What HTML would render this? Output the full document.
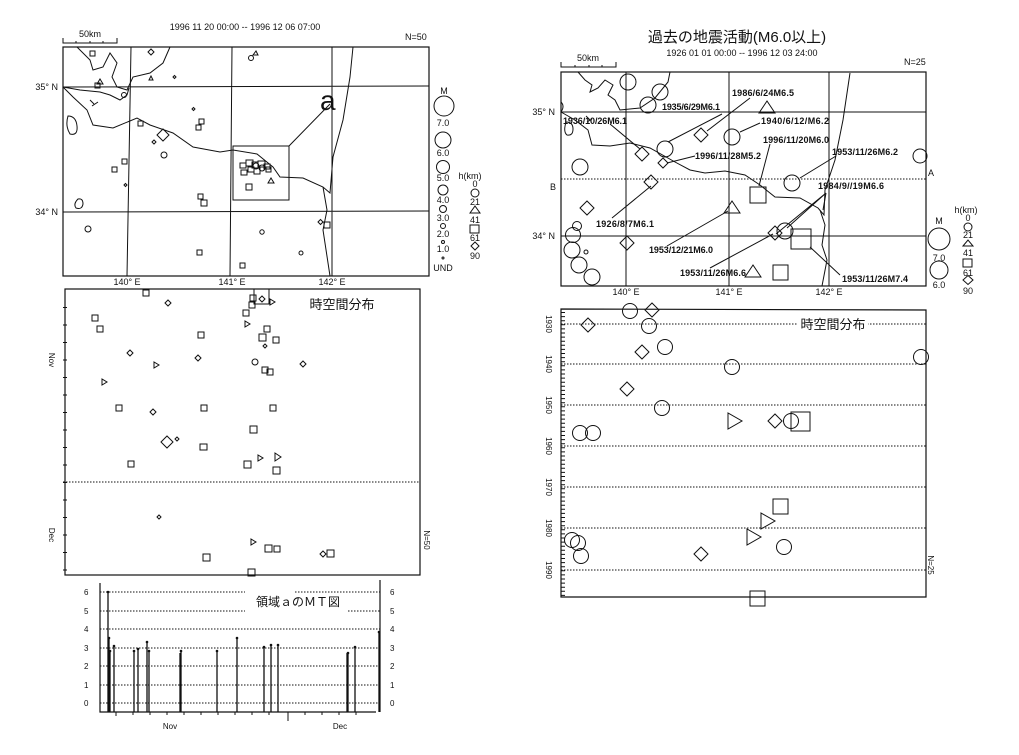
<!DOCTYPE html>
<html><head><meta charset="utf-8"><style>
html,body{margin:0;padding:0;background:#fff;}
svg{display:block;}
text{font-family:"Liberation Sans","Noto Sans CJK JP",sans-serif;fill:#111;}
.s{fill:none;stroke:#111;stroke-width:1;}
.t{stroke:#111;stroke-width:1.2;fill:none;}
.d{stroke:#111;stroke-width:1;stroke-dasharray:1.5 1.5;fill:none;}
.lb{font-size:9px;font-weight:bold;}
</style></head><body>
<svg width="1019" height="755" viewBox="0 0 1019 755" xmlns="http://www.w3.org/2000/svg">
<rect width="1019" height="755" fill="#fff"/>

<!-- ===== LEFT MAP ===== -->
<text x="245" y="30" font-size="9" text-anchor="middle">1996 11 20 00:00 -- 1996 12 06 07:00</text>
<text x="405" y="40" font-size="9">N=50</text>
<path class="s" d="M63 38 V43 H117 V38 M76 43v-2 M90 43v-2 M103 43v-2"/>
<text x="90" y="37" font-size="9" text-anchor="middle">50km</text>
<rect x="63" y="47" width="366" height="229" class="t"/>
<path class="s" d="M131 47 L127 276 M232 47 L230 276 M332 47 L332 276 M63 87 L429 86 M63 212 L429 211"/>
<text x="58" y="90" font-size="9" text-anchor="end">35° N</text>
<text x="58" y="215" font-size="9" text-anchor="end">34° N</text>
<text x="127" y="285" font-size="9" text-anchor="middle">140° E</text>
<text x="232" y="285" font-size="9" text-anchor="middle">141° E</text>
<text x="332" y="285" font-size="9" text-anchor="middle">142° E</text>
<path class="s" d="M63 87 L73 97 L87 110 L93 125 L113 128 L137 118 L150 125 L173 133 L193 147 L220 152 L233 150 L257 154 L273 167 L280 177 L303 178 L323 187 L330 193 L333 157 L343 120 L350 77 L353 47"/>
<path class="s" d="M323 187 L327 210 L323 230 L330 276"/>
<path class="s" d="M77 47 L90 60 L93 70 L103 67 L110 53 L117 63 L112 77 L117 87 L127 90 L133 77 L150 73 L163 63 L170 47"/>
<path class="s" d="M63 87 L80 90 L100 92 L110 95 L120 100 L127 95 L129 88"/>
<path class="s" d="M90 100 l4 4 M92 106 l6 -4"/>
<path class="s" d="M68 116 q-3 10 2 18 q8 2 7 -8 q-1 -10 -9 -10z M78 199 q-5 5 -2 9 q6 2 7 -4 q0 -6 -5 -5z"/>
<rect x="233" y="146" width="56" height="54" class="s"/>
<path class="s" d="M289 146 L330 104"/>
<text x="320" y="110" font-size="28">a</text>
<g class="s">
<rect x="240" y="163" width="6" height="5"/><rect x="246" y="160" width="7" height="6"/><rect x="252" y="162" width="6" height="6"/><rect x="258" y="161" width="7" height="6"/><rect x="264" y="164" width="6" height="5"/><rect x="241" y="170" width="6" height="5"/><rect x="254" y="168" width="6" height="6"/><rect x="248" y="167" width="6" height="5"/><rect x="266" y="167" width="5" height="5"/>
<circle cx="256" cy="166" r="3"/><circle cx="262" cy="168" r="3"/>
<rect x="246" y="184" width="6" height="6"/><polygon points="268,183 271,178 274,183"/>
<rect x="90" y="51" width="5" height="5"/><rect x="95" y="83" width="5" height="5"/><polygon points="97,84 100,79 103,84"/>
<path d="M148 52 l3 -3 3 3 -3 3z"/><polygon points="149,80 151,76 153,80"/><path d="M173 77 l1.5 -1.5 1.5 1.5 -1.5 1.5z"/>
<circle cx="251" cy="58" r="2.5"/><polygon points="253,55 256,51 258,55"/>
<circle cx="124" cy="95" r="2.5"/>
<path d="M192 109 l1.5 -1.5 1.5 1.5 -1.5 1.5z"/>
<rect x="199" y="119" width="5" height="5"/><rect x="196" y="125" width="5" height="5"/>
<rect x="138" y="121" width="5" height="5"/>
<path d="M157 135 l6 -6 6 6 -6 6z"/>
<path d="M152 142 l2 -2 2 2 -2 2z"/><circle cx="164" cy="155" r="3"/>
<rect x="122" y="159" width="5" height="5"/><rect x="112" y="167" width="5" height="5"/>
<path d="M124 185 l1.5 -1.5 1.5 1.5 -1.5 1.5z"/>
<rect x="198" y="194" width="5" height="5"/><rect x="201" y="200" width="6" height="6"/>
<circle cx="88" cy="229" r="3"/><rect x="197" y="250" width="5" height="5"/><circle cx="262" cy="232" r="2.2"/>
<circle cx="301" cy="253" r="2"/><path d="M318 222 l2.5 -2.5 2.5 2.5 -2.5 2.5z"/><rect x="324" y="222" width="6" height="6"/>
<rect x="240" y="263" width="5" height="5"/>
</g>
<g font-size="9" text-anchor="middle">
<text x="444" y="94">M</text>
<circle cx="444" cy="106" r="10" class="s"/><text x="443" y="126">7.0</text>
<circle cx="443" cy="140" r="8" class="s"/><text x="443" y="156">6.0</text>
<circle cx="443" cy="167" r="6.5" class="s"/><text x="443" y="181">5.0</text>
<circle cx="443" cy="190" r="5" class="s"/><text x="443" y="203">4.0</text>
<circle cx="443" cy="209" r="3.5" class="s"/><text x="443" y="221">3.0</text>
<circle cx="443" cy="226" r="2.5" class="s"/><text x="443" y="237">2.0</text>
<circle cx="443" cy="242" r="1.5" class="s"/><text x="443" y="252">1.0</text>
<circle cx="443" cy="258" r="1" class="s"/><text x="443" y="271">UND</text>
<text x="470" y="179">h(km)</text>
<text x="475" y="187">0</text><circle cx="475" cy="193" r="4" class="s"/>
<text x="475" y="205">21</text><polygon points="470,213 475,206 480,213" class="s"/>
<text x="475" y="223">41</text><rect x="470" y="225" width="9" height="8" class="s"/>
<text x="475" y="241">61</text><path d="M471 246 l4 -4 4 4 -4 4z" class="s"/>
<text x="475" y="259">90</text>
</g>

<!-- ===== LEFT SPACE-TIME ===== -->
<rect x="65" y="289" width="355" height="286" class="t"/>
<line x1="63" y1="482" x2="420" y2="482" class="d"/>
<line x1="65" y1="307" x2="65" y2="575" stroke="#111" stroke-width="4" stroke-dasharray="1 16.5"/>
<text x="342" y="309" font-size="13" text-anchor="middle">時空間分布</text>
<text font-size="8" transform="translate(49,360) rotate(90)" text-anchor="middle">Nov</text>
<text font-size="8" transform="translate(49,535) rotate(90)" text-anchor="middle">Dec</text>
<text font-size="8" transform="translate(424,540) rotate(90)" text-anchor="middle">N=50</text>
<g class="s">
<rect x="143" y="290" width="6" height="6"/><rect x="92" y="315" width="6" height="6"/><rect x="97" y="326" width="6" height="6"/><rect x="198" y="332" width="6" height="6"/><rect x="243" y="310" width="6" height="6"/><rect x="249" y="302" width="6" height="6"/><rect x="250" y="295" width="6" height="6"/><rect x="264" y="326" width="6" height="6"/><rect x="259" y="334" width="7" height="7"/><rect x="273" y="337" width="6" height="6"/><rect x="262" y="367" width="6" height="6"/><rect x="267" y="369" width="6" height="6"/><rect x="116" y="405" width="6" height="6"/><rect x="201" y="405" width="6" height="6"/><rect x="270" y="405" width="6" height="6"/><rect x="250" y="426" width="7" height="7"/><rect x="128" y="461" width="6" height="6"/><rect x="244" y="461" width="7" height="7"/><rect x="273" y="467" width="7" height="7"/><rect x="203" y="554" width="7" height="7"/><rect x="265" y="545" width="7" height="7"/><rect x="274" y="546" width="6" height="6"/><rect x="327" y="550" width="7" height="7"/><rect x="248" y="569" width="7" height="7"/><rect x="200" y="444" width="7" height="6"/>
<rect x="254" y="289" width="15" height="15"/>
<path d="M165 303 l3 -3 3 3 -3 3z"/><path d="M127 353 l3 -3 3 3 -3 3z"/><path d="M195 358 l3 -3 3 3 -3 3z"/><path d="M263 346 l2 -2 2 2 -2 2z"/><path d="M300 364 l3 -3 3 3 -3 3z"/><path d="M150 412 l3 -3 3 3 -3 3z"/><path d="M161 442 l6 -6 6 6 -6 6z"/><path d="M175 439 l2 -2 2 2 -2 2z"/><path d="M157 517 l2 -2 2 2 -2 2z"/><path d="M320 554 l3 -3 3 3 -3 3z"/><path d="M259 299 l3 -3 3 3 -3 3z"/>
<circle cx="255" cy="362" r="3"/>
<polygon points="245,321 245,327 250,324"/><polygon points="154,362 154,368 159,365"/><polygon points="102,379 102,385 107,382"/><polygon points="258,455 258,461 263,458"/><polygon points="275,453 275,461 281,457"/><polygon points="270,299 270,305 275,302"/><polygon points="251,539 251,545 256,542"/>
</g>

<!-- ===== MT ===== -->
<g class="d">
<line x1="100" y1="592" x2="245" y2="592"/><line x1="295" y1="592" x2="380" y2="592"/>
<line x1="100" y1="611" x2="245" y2="611"/><line x1="348" y1="611" x2="380" y2="611"/>
<line x1="100" y1="629" x2="380" y2="629"/><line x1="100" y1="648" x2="380" y2="648"/><line x1="100" y1="666" x2="380" y2="666"/><line x1="100" y1="685" x2="380" y2="685"/><line x1="100" y1="703" x2="380" y2="703"/>
</g>
<path class="t" d="M100 583 V712 H376 M380 580 V712"/>
<path class="s" d="M288 712 V721 M116 712 v4 M133 712v3 M150 712v3 M167 712v3 M184 712v3 M201 712v3 M218 712v3 M235 712v3 M252 712v3 M269 712v3 M305 712v3 M322 712v3 M339 712v3 M356 712v3"/>
<text x="256" y="606" font-size="12">領域ａのＭＴ図</text>
<g font-size="8">
<text x="84" y="595">6</text><text x="84" y="614">5</text><text x="84" y="632">4</text><text x="84" y="651">3</text><text x="84" y="669">2</text><text x="84" y="688">1</text><text x="84" y="706">0</text>
<text x="390" y="595">6</text><text x="390" y="614">5</text><text x="390" y="632">4</text><text x="390" y="651">3</text><text x="390" y="669">2</text><text x="390" y="688">1</text><text x="390" y="706">0</text>
<text x="170" y="729" text-anchor="middle">Nov</text><text x="340" y="729" text-anchor="middle">Dec</text>
</g>
<g stroke="#111" stroke-width="1.3">
<line x1="108" y1="592" x2="108" y2="712"/><line x1="109" y1="638" x2="109" y2="712"/><line x1="108.5" y1="644" x2="108.5" y2="712"/><line x1="110" y1="651" x2="110" y2="712"/><line x1="114" y1="646" x2="114" y2="712"/>
<line x1="134" y1="651" x2="134" y2="712"/><line x1="138" y1="649" x2="138" y2="712"/><line x1="147" y1="642" x2="147" y2="712"/><line x1="149" y1="651" x2="149" y2="712"/><line x1="180" y1="653" x2="180" y2="712"/><line x1="181" y1="651" x2="181" y2="712"/><line x1="217" y1="651" x2="217" y2="712"/><line x1="237" y1="638" x2="237" y2="712"/><line x1="264" y1="647" x2="264" y2="712"/><line x1="271" y1="645" x2="271" y2="712"/><line x1="278" y1="645" x2="278" y2="712"/><line x1="347" y1="653" x2="347" y2="712"/><line x1="348" y1="653" x2="348" y2="712"/><line x1="355" y1="647" x2="355" y2="712"/><line x1="379" y1="632" x2="379" y2="712"/>
</g>
<g fill="#111">
<circle cx="108" cy="592" r="1.3"/><circle cx="109" cy="638" r="1.3"/><circle cx="110" cy="651" r="1.3"/><circle cx="114" cy="646" r="1.3"/><circle cx="134" cy="651" r="1.3"/><circle cx="138" cy="649" r="1.3"/><circle cx="147" cy="642" r="1.3"/><circle cx="149" cy="651" r="1.3"/><circle cx="181" cy="651" r="1.3"/><circle cx="217" cy="651" r="1.3"/><circle cx="237" cy="638" r="1.3"/><circle cx="264" cy="647" r="1.3"/><circle cx="271" cy="645" r="1.3"/><circle cx="278" cy="645" r="1.3"/><circle cx="348" cy="653" r="1.3"/><circle cx="355" cy="647" r="1.3"/><circle cx="379" cy="632" r="1.3"/>
</g>

<!-- ===== RIGHT MAP ===== -->
<text x="737" y="42" font-size="15" text-anchor="middle" font-family="Liberation Serif,Noto Serif CJK SC,serif">過去の地震活動(M6.0以上)</text>
<text x="742" y="56" font-size="9" text-anchor="middle">1926 01 01 00:00 -- 1996 12 03 24:00</text>
<text x="904" y="65" font-size="9">N=25</text>
<path class="s" d="M561 62 V67 H616 V62 M575 67v-2 M589 67v-2 M602 67v-2"/>
<text x="588" y="61" font-size="9" text-anchor="middle">50km</text>
<rect x="561" y="72" width="365" height="214" class="t"/>
<path class="s" d="M626 72 V286 M729 72 V286 M829 72 V286 M561 112 H926 M561 236 H926"/>
<line x1="561" y1="179" x2="926" y2="179" class="d"/>
<text x="556" y="190" font-size="9" text-anchor="end">B</text>
<text x="928" y="176" font-size="9">A</text>
<text x="555" y="115" font-size="9" text-anchor="end">35° N</text>
<text x="555" y="239" font-size="9" text-anchor="end">34° N</text>
<text x="626" y="295" font-size="9" text-anchor="middle">140° E</text>
<text x="729" y="295" font-size="9" text-anchor="middle">141° E</text>
<text x="829" y="295" font-size="9" text-anchor="middle">142° E</text>
<path class="s" d="M561 112 L575 120 L588 130 L592 145 L610 146 L630 143 L650 148 L675 162 L690 170 L705 173 L725 171 L745 175 L760 185 L775 197 L800 198 L818 208 L824 215 L825 190 L835 160 L843 120 L850 73"/>
<path class="s" d="M820 210 L825 225 L822 245 L827 260 L822 286"/>
<path class="s" d="M578 72 L585 80 L592 85 L590 92 L598 88 L605 80 L613 85 L608 95 L615 100 L620 110 L640 108 L655 98 L668 82 L670 72"/>
<path class="s" d="M561 102 q4 4 0 10"/>
<path class="s" d="M566 122 q-3 10 1 13 q6 1 6 -6 q0 -7 -7 -7z"/>
<path class="s" d="M586 116 l4 4 M587 122 l5 -3"/>
<g class="s">
<circle cx="628" cy="82" r="8"/><circle cx="660" cy="92" r="8"/><circle cx="648" cy="105" r="8"/><circle cx="665" cy="149" r="8"/><circle cx="732" cy="137" r="8"/><circle cx="580" cy="167" r="8"/><circle cx="792" cy="183" r="8"/><circle cx="920" cy="156" r="7"/><circle cx="785" cy="231" r="8"/><circle cx="577" cy="226" r="4.5"/><circle cx="573" cy="235" r="7.5"/><circle cx="572" cy="250" r="8"/><circle cx="579" cy="265" r="8"/><circle cx="592" cy="277" r="8"/><circle cx="586" cy="252" r="2"/>
<path d="M694 135 l7 -7 7 7 -7 7z"/><path d="M635 154 l7 -7 7 7 -7 7z"/><path d="M658 163 l5 -5 5 5 -5 5z"/><path d="M644 182 l7 -7 7 7 -7 7z"/><path d="M580 208 l7 -7 7 7 -7 7z"/><path d="M620 243 l7 -7 7 7 -7 7z"/><path d="M768 233 l7 -7 7 7 -7 7z"/>
<polygon points="759,113 767,101 775,113"/><polygon points="724,213 732,201 740,213"/><polygon points="745,277 753,265 761,277"/>
<rect x="750" y="187" width="16" height="16"/><rect x="791" y="229" width="20" height="20"/><rect x="773" y="265" width="15" height="15"/>
<path d="M750 98 L707 131 M722 114 L668 142 M610 124 L640 149 M760 123 L740 132 M770 144 L759 186 M695 156 L667 163 M836 156 L800 178 M826 193 L787 228 M826 193 L776 234 M826 193 L823 210 M612 218 L651 186 M667 246 L728 211 M710 268 L773 234 M840 275 L810 247"/>
</g>
<g class="lb">
<text x="732" y="96" textLength="62">1986/6/24M6.5</text>
<text x="662" y="110" textLength="58">1935/6/29M6.1</text>
<text x="563" y="124" textLength="64">1936/10/26M6.1</text>
<text x="761" y="124" textLength="68">1940/6/12/M6.2</text>
<text x="763" y="143" textLength="66">1996/11/20M6.0</text>
<text x="695" y="159" textLength="66">1996/11/28M5.2</text>
<text x="832" y="155" textLength="66">1953/11/26M6.2</text>
<text x="818" y="189" textLength="66">1984/9//19M6.6</text>
<text x="596" y="227" textLength="58">1926/8/7M6.1</text>
<text x="649" y="253" textLength="64">1953/12/21M6.0</text>
<text x="680" y="276" textLength="66">1953/11/26M6.6</text>
<text x="842" y="282" textLength="66">1953/11/26M7.4</text>
</g>
<g font-size="9" text-anchor="middle">
<text x="939" y="224">M</text><circle cx="939" cy="239" r="11" class="s"/><text x="939" y="261">7.0</text>
<circle cx="939" cy="270" r="9" class="s"/><text x="939" y="288">6.0</text>
<text x="966" y="213">h(km)</text>
<text x="968" y="221">0</text><circle cx="968" cy="227" r="4" class="s"/>
<text x="968" y="238">21</text><polygon points="963,246 968,240 973,246" class="s"/>
<text x="968" y="256">41</text><rect x="963" y="259" width="9" height="8" class="s"/>
<text x="968" y="276">61</text><path d="M963 280 l5 -4.5 5 4.5 -5 4.5z" class="s"/>
<text x="968" y="294">90</text>
</g>

<!-- ===== RIGHT SPACE-TIME ===== -->
<path class="t" d="M561 309 L926 310 V597 H561 Z"/>
<g class="d">
<line x1="561" y1="324" x2="926" y2="324"/><line x1="561" y1="364" x2="926" y2="364"/><line x1="561" y1="405" x2="926" y2="405"/><line x1="561" y1="446" x2="926" y2="446"/><line x1="561" y1="487" x2="926" y2="487"/><line x1="561" y1="528" x2="926" y2="528"/><line x1="561" y1="570" x2="926" y2="570"/>
</g>
<line x1="563" y1="312" x2="563" y2="597" stroke="#111" stroke-width="4" stroke-dasharray="1 3.1"/>
<rect x="798" y="316" width="70" height="16" fill="#fff"/>
<text x="833" y="329" font-size="13" text-anchor="middle">時空間分布</text>
<g font-size="8" text-anchor="middle">
<text transform="translate(546,324) rotate(90)">1930</text><text transform="translate(546,364) rotate(90)">1940</text><text transform="translate(546,405) rotate(90)">1950</text><text transform="translate(546,446) rotate(90)">1960</text><text transform="translate(546,487) rotate(90)">1970</text><text transform="translate(546,528) rotate(90)">1980</text><text transform="translate(546,570) rotate(90)">1990</text>
<text transform="translate(928,565) rotate(90)">N=25</text>
</g>
<g class="s">
<circle cx="630" cy="311" r="7.5"/><circle cx="649" cy="326" r="7.5"/><circle cx="665" cy="347" r="7.5"/><circle cx="732" cy="367" r="7.5"/><circle cx="921" cy="357" r="7.5"/><circle cx="662" cy="408" r="7.5"/><circle cx="580" cy="433" r="7.5"/><circle cx="593" cy="433" r="7.5"/><circle cx="791" cy="421" r="7.5"/><circle cx="572" cy="540" r="7.5"/><circle cx="578" cy="543" r="7.5"/><circle cx="581" cy="556" r="7.5"/><circle cx="784" cy="547" r="7.5"/>
<path d="M645 310 l7 -7 7 7 -7 7z"/><path d="M581 325 l7 -7 7 7 -7 7z"/><path d="M635 352 l7 -7 7 7 -7 7z"/><path d="M620 389 l7 -7 7 7 -7 7z"/><path d="M768 421 l7 -7 7 7 -7 7z"/><path d="M694 554 l7 -7 7 7 -7 7z"/>
<polygon points="728,413 728,429 742,421"/><polygon points="761,513 761,529 775,521"/><polygon points="747,529 747,545 761,537"/>
<rect x="791" y="412" width="19" height="19"/><rect x="773" y="499" width="15" height="15"/><rect x="750" y="591" width="15" height="15"/>
</g>
</svg>
</body></html>
